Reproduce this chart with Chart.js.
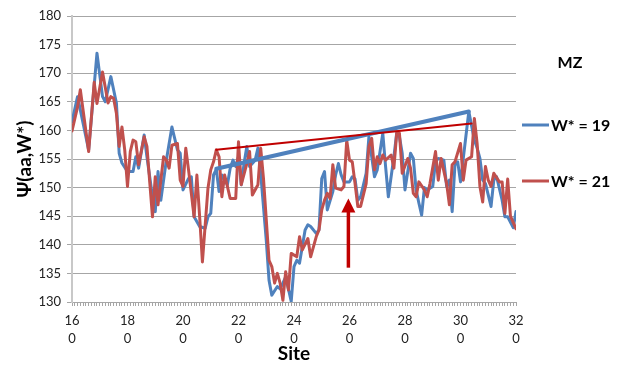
<!DOCTYPE html>
<html>
<head>
<meta charset="utf-8">
<script src="https://cdn.jsdelivr.net/npm/chart.js@4.4.0/dist/chart.umd.min.js"></script>
<style>
  html, body { margin: 0; padding: 0; background: #fff; }
  #wrap { position: relative; width: 628px; height: 370px; }
</style>
</head>
<body>
<div id="wrap"><canvas id="chart" width="628" height="370"></canvas></div>
<script>
// ===== DADOS =====

// W* = 19
const sites19 = [160, 162, 166, 169, 171, 172, 174, 176, 177, 178, 180, 182, 183, 184, 186, 187, 189, 190, 191, 192,
    194, 196, 198, 199, 200, 202, 203, 204, 206, 208, 209, 210, 211, 212, 213, 214, 216, 217, 218, 219,
    220, 221, 222, 223, 224, 226, 227, 228, 230, 231, 232, 234, 235, 236, 237, 239, 240, 241, 242, 244,
    245, 246, 248, 249, 250, 251, 252, 254, 255, 256, 257, 258, 260, 261, 262, 263, 264, 266, 267, 269,
    270, 272, 273, 274, 276, 277, 278, 279, 280, 282, 283, 284, 285, 286, 287, 288, 290, 291, 292, 294,
    295, 296, 297, 298, 299, 300, 303, 305, 306, 307, 308, 309, 311, 312, 313, 315, 316, 317, 319, 320];
const psi19 = [161.5, 165.9, 156.6, 173.5, 165.9, 165.0, 169.4, 164.8, 156.0, 154.3, 152.8, 152.8, 155.4, 153.4, 159.2, 155.4, 148.4, 145.8, 152.8, 147.8,
    154.8, 160.6, 156.6, 156.0, 149.6, 151.6, 151.9, 144.9, 143.2, 142.9, 144.9, 145.5, 152.2, 153.2, 149.3, 152.2, 150.5, 153.4, 154.8, 153.7,
    155.4, 150.5, 154.2, 157.2, 153.7, 154.8, 156.9, 152.5, 140.8, 133.8, 131.2, 132.7, 132.3, 133.3, 134.4, 130.1, 136.2, 137.3, 136.8, 142.6,
    143.5, 143.2, 142.0, 142.6, 151.6, 152.8, 146.1, 149.3, 152.2, 154.2, 152.2, 151.0, 151.0, 151.9, 151.5, 147.8, 148.4, 152.5, 158.9, 151.9,
    153.1, 159.5, 153.7, 148.4, 155.4, 159.5, 158.9, 156.0, 149.6, 156.0, 155.1, 149.6, 147.3, 145.2, 150.0, 149.6, 150.2, 154.5, 155.1, 154.8,
    150.2, 151.3, 145.8, 154.0, 154.5, 151.0, 163.3, 158.3, 156.9, 155.1, 151.3, 150.7, 146.7, 151.3, 151.9, 147.8, 144.9, 144.9, 143.0, 145.8];

// W* = 21
const sites21 = [160, 162, 163, 166, 168, 169, 171, 173, 174, 175, 176, 177, 178, 179, 180, 181, 182, 183, 184, 186,
    187, 189, 190, 191, 193, 194, 195, 196, 198, 199, 200, 201, 202, 204, 205, 206, 207, 209, 210, 211,
    212, 213, 214, 215, 216, 217, 219, 220, 221, 223, 224, 225, 227, 228, 229, 231, 232, 233, 234, 235,
    236, 237, 238, 239, 241, 242, 243, 245, 246, 248, 249, 250, 251, 252, 253, 254, 255, 257, 258, 259,
    260, 261, 262, 263, 264, 266, 267, 268, 269, 270, 271, 272, 273, 275, 276, 277, 278, 279, 281, 282,
    283, 284, 285, 287, 288, 289, 291, 292, 293, 295, 296, 297, 298, 300, 301, 302, 304, 305, 306, 307,
    308, 309, 310, 311, 312, 314, 315, 316, 317, 318, 320];
const psi21 = [159.9, 164.1, 167.1, 156.3, 168.4, 164.7, 170.2, 164.8, 165.9, 165.6, 163.0, 157.2, 160.6, 156.6, 150.2, 156.3, 158.3, 158.0, 154.0, 158.9,
    157.2, 144.9, 151.9, 147.0, 155.4, 154.8, 153.4, 157.4, 157.7, 151.3, 150.2, 156.9, 153.1, 144.9, 152.2, 144.9, 137.0, 149.9, 153.1, 154.5,
    156.6, 155.4, 148.4, 152.2, 150.2, 148.1, 148.1, 158.0, 150.5, 154.2, 156.3, 148.7, 150.5, 156.9, 151.6, 137.3, 136.2, 133.3, 135.0, 133.3,
    130.3, 135.3, 132.1, 138.5, 137.9, 141.4, 139.1, 141.1, 137.9, 141.4, 142.6, 146.1, 147.8, 149.0, 148.1, 154.0, 149.9, 149.6, 150.2, 158.3,
    154.8, 154.5, 150.7, 146.7, 146.7, 150.7, 157.2, 158.6, 153.1, 155.4, 154.2, 155.7, 154.8, 155.7, 153.4, 159.5, 159.5, 152.5, 155.1, 153.4,
    149.0, 148.4, 151.0, 149.6, 148.4, 150.7, 156.3, 151.3, 155.1, 150.7, 147.0, 154.0, 154.5, 157.7, 151.3, 154.8, 155.4, 162.1, 157.7, 150.2,
    147.5, 153.7, 151.3, 150.2, 152.5, 151.0, 151.0, 145.5, 151.5, 145.0, 142.8];

// retas de referencia sobre as curvas
const guide19Sites = [212, 303];
const guide19Psi = [153.3, 163.3];
const guide21Sites = [212, 304];
const guide21Psi = [156.6, 161.2];

// seta no sitio 260
const arrowSite = 259.6;
const arrowFrom = 136;
const arrowTo = 148.1;

// eixos
const xLabelSites = [160, 180, 200, 220, 240, 260, 280, 300, 320];
const yTicks = [130, 135, 140, 145, 150, 155, 160, 165, 170, 175, 180];

const legendTitle = 'MZ';
const seriesNames = ['W* = 19', 'W* = 21'];

const BLUE = '#4F81BD';
const RED = '#C0504D';
const DARK_RED = '#C00000';
const FONT = 'Lato, "Open Sans", sans-serif';

function toPoints(xs, ys) {
    return xs.map((x, i) => ({ x: x, y: ys[i] }));
}

// legenda lateral desenhada a mao
const sideLegend = {
    id: 'sideLegend',
    afterDraw(chart) {
        const ctx = chart.ctx;
        ctx.save();
        ctx.fillStyle = '#000';
        ctx.font = 'bold 16px ' + FONT;
        ctx.textAlign = 'center';
        ctx.textBaseline = 'middle';
        ctx.fillText(legendTitle, 570, 63);

        const rows = [125, 181];
        chart.data.datasets.slice(0, 2).forEach((ds, i) => {
            const y = rows[i];
            ctx.strokeStyle = ds.borderColor;
            ctx.lineWidth = 3;
            ctx.beginPath();
            ctx.moveTo(522, y);
            ctx.lineTo(549, y);
            ctx.stroke();
            ctx.textAlign = 'left';
            ctx.fillText(ds.label, 551, y + 1);
        });
        ctx.restore();
    }
};

// seta vertical
const arrowPlugin = {
    id: 'arrowPlugin',
    afterDatasetsDraw(chart) {
        const { ctx, scales: { x, y } } = chart;
        const px = x.getPixelForValue(arrowSite);
        const yBottom = y.getPixelForValue(arrowFrom);
        const yTip = y.getPixelForValue(arrowTo);
        const headH = 14;
        const headW = 7;
        ctx.save();
        ctx.strokeStyle = DARK_RED;
        ctx.fillStyle = DARK_RED;
        ctx.lineWidth = 3.5;
        ctx.beginPath();
        ctx.moveTo(px, yBottom);
        ctx.lineTo(px, yTip + headH - 1);
        ctx.stroke();
        ctx.beginPath();
        ctx.moveTo(px, yTip);
        ctx.lineTo(px - headW, yTip + headH);
        ctx.lineTo(px + headW, yTip + headH);
        ctx.closePath();
        ctx.fill();
        ctx.restore();
    }
};

const ctx = document.getElementById('chart').getContext('2d');

new Chart(ctx, {
    type: 'line',
    data: {
        datasets: [
            {
                label: seriesNames[0],
                data: toPoints(sites19, psi19),
                borderColor: BLUE,
                borderWidth: 3,
                order: 3
            },
            {
                label: seriesNames[1],
                data: toPoints(sites21, psi21),
                borderColor: RED,
                borderWidth: 3,
                order: 2
            },
            {
                label: 'guide19',
                data: toPoints(guide19Sites, guide19Psi),
                borderColor: BLUE,
                borderWidth: 4,
                order: 1
            },
            {
                label: 'guide21',
                data: toPoints(guide21Sites, guide21Psi),
                borderColor: DARK_RED,
                borderWidth: 2,
                order: 0
            }
        ]
    },
    options: {
        responsive: false,
        animation: false,
        events: [],
        layout: {
            padding: { top: 16, right: 112, bottom: 0, left: 0 }
        },
        elements: {
            point: { radius: 0 },
            line: { tension: 0, fill: false, borderJoinStyle: 'round', borderCapStyle: 'round' }
        },
        plugins: {
            legend: { display: false },
            tooltip: { enabled: false }
        },
        scales: {
            x: {
                type: 'linear',
                min: 160,
                max: 320,
                afterFit: function(scale) { scale.height = 68; },
                ticks: {
                    stepSize: 1,
                    autoSkip: false,
                    maxRotation: 0,
                    minRotation: 0,
                    padding: 6,
                    color: '#222',
                    font: { family: FONT, size: 13, lineHeight: 1.4 },
                    callback: function(value) {
                        if (!xLabelSites.includes(value)) return '';
                        const s = String(value);
                        return [s.slice(0, 2), s.slice(2)];
                    }
                },
                grid: {
                    drawOnChartArea: false,
                    drawTicks: true,
                    tickLength: 4,
                    color: '#a6a6a6'
                },
                border: { color: '#a6a6a6', width: 1 },
                title: {
                    display: true,
                    text: 'Site',
                    color: '#000',
                    font: { family: FONT, size: 19, weight: 'bold', lineHeight: 1.2 },
                    padding: { top: 0, bottom: 5 }
                }
            },
            y: {
                min: 130,
                max: 180,
                afterFit: function(scale) { scale.width = 72; },
                afterBuildTicks: function(scale) {
                    scale.ticks = yTicks.map(v => ({ value: v }));
                },
                ticks: {
                    padding: 6,
                    color: '#222',
                    font: { family: FONT, size: 13 }
                },
                grid: {
                    color: '#a6a6a6',
                    tickLength: 5
                },
                border: { color: '#c8c8c8', width: 2 },
                title: {
                    display: true,
                    text: 'Ψ(aa,W*)',
                    color: '#000',
                    font: { family: FONT, size: 19, weight: 'bold', lineHeight: 1.2 },
                    padding: { top: 13, bottom: 0 }
                }
            }
        }
    },
    plugins: [arrowPlugin, sideLegend]
});
</script>
</body>
</html>
